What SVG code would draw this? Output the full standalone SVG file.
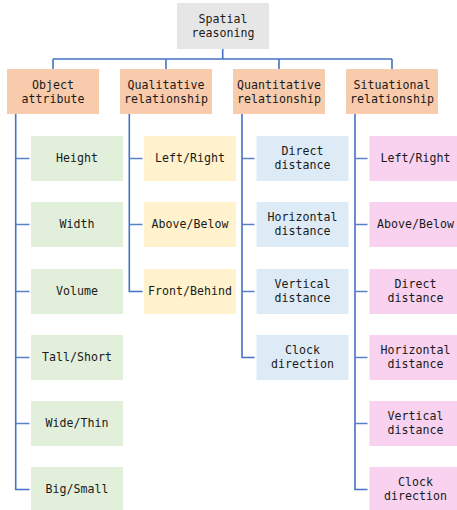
<svg xmlns="http://www.w3.org/2000/svg" width="457" height="510" viewBox="0 0 457 510">
<style>
text{font-family:"DejaVu Sans Mono","Liberation Mono",monospace;font-size:11.6px;fill:#1a1a1a;text-anchor:middle}
.ln{stroke:#4472c4;stroke-width:1.6;fill:none}
.tk{stroke:#5a80c8;stroke-width:1.3;fill:none}
.root{fill:#e7e6e6}
.l1{fill:#f8cbad}
.g{fill:#e2efda}
.y{fill:#fff2cc}
.b{fill:#ddebf7}
.p{fill:#f8d2ef}
</style>
<rect width="457" height="510" fill="#ffffff"/>
<g id="connectors">
<path class="ln" d="M222.7,49V59M53,59H392M53,59V69M166,59V69M279,59V69M392,59V69"/>
<path class="ln" d="M15.7,114V489.5H29.5"/>
<path class="tk" d="M15.7,158.5H29.5M15.7,224.5H29.5M15.7,291.5H29.5M15.7,357.5H29.5M15.7,423.5H29.5"/>
<path class="ln" d="M129.3,114V291.5H142.5"/>
<path class="tk" d="M129.3,158.5H142.5M129.3,224.5H142.5"/>
<path class="ln" d="M242,114V357.5H254.5"/>
<path class="tk" d="M242,158.5H254.5M242,224.5H254.5M242,291.5H254.5"/>
<path class="ln" d="M355,114V489.5H367.5"/>
<path class="tk" d="M355,158.5H367.5M355,224.5H367.5M355,291.5H367.5M355,357.5H367.5M355,423.5H367.5"/>
</g>
<g id="spatial-reasoning"><rect class="root" x="177" y="3" width="92" height="46"/><text x="223" y="22.7">Spatial</text><text x="223" y="36.7">reasoning</text></g>
<g id="object-attribute"><rect class="l1" x="7" y="69" width="92" height="45"/><text x="53" y="89">Object</text><text x="53" y="103">attribute</text></g>
<g id="qualitative-relationship"><rect class="l1" x="120" y="69" width="92" height="45"/><text x="166" y="89">Qualitative</text><text x="166" y="103">relationship</text></g>
<g id="quantitative-relationship"><rect class="l1" x="233" y="69" width="92" height="45"/><text x="279" y="89">Quantitative</text><text x="279" y="103">relationship</text></g>
<g id="situational-relationship"><rect class="l1" x="346" y="69" width="92" height="45"/><text x="392" y="89">Situational</text><text x="392" y="103">relationship</text></g>

<g id="oa-height"><rect class="g" x="31" y="136" width="92" height="45"/><text x="77" y="161.5">Height</text></g>
<g id="oa-width"><rect class="g" x="31" y="202" width="92" height="45"/><text x="77" y="227.5">Width</text></g>
<g id="oa-volume"><rect class="g" x="31" y="269" width="92" height="45"/><text x="77" y="294.5">Volume</text></g>
<g id="oa-tall-short"><rect class="g" x="31" y="335" width="92" height="45"/><text x="77" y="360.5">Tall/Short</text></g>
<g id="oa-wide-thin"><rect class="g" x="31" y="401" width="92" height="45"/><text x="77" y="426.5">Wide/Thin</text></g>
<g id="oa-big-small"><rect class="g" x="31" y="467" width="92" height="43"/><text x="77" y="492.5">Big/Small</text></g>

<g id="ql-left-right"><rect class="y" x="144" y="136" width="92" height="45"/><text x="190" y="161.5">Left/Right</text></g>
<g id="ql-above-below"><rect class="y" x="144" y="202" width="92" height="45"/><text x="190" y="227.5">Above/Below</text></g>
<g id="ql-front-behind"><rect class="y" x="144" y="269" width="92" height="45"/><text x="190" y="294.5">Front/Behind</text></g>

<g id="qn-direct"><rect class="b" x="256.5" y="136" width="92" height="45"/><text x="302.5" y="155">Direct</text><text x="302.5" y="168.5">distance</text></g>
<g id="qn-horizontal"><rect class="b" x="256.5" y="202" width="92" height="45"/><text x="302.5" y="221">Horizontal</text><text x="302.5" y="234.5">distance</text></g>
<g id="qn-vertical"><rect class="b" x="256.5" y="269" width="92" height="45"/><text x="302.5" y="288">Vertical</text><text x="302.5" y="301.5">distance</text></g>
<g id="qn-clock"><rect class="b" x="256.5" y="335" width="92" height="45"/><text x="302.5" y="354">Clock</text><text x="302.5" y="367.5">direction</text></g>

<g id="st-left-right"><rect class="p" x="369.5" y="136" width="92" height="45"/><text x="415.5" y="161.5">Left/Right</text></g>
<g id="st-above-below"><rect class="p" x="369.5" y="202" width="92" height="45"/><text x="415.5" y="227.5">Above/Below</text></g>
<g id="st-direct"><rect class="p" x="369.5" y="269" width="92" height="45"/><text x="415.5" y="288">Direct</text><text x="415.5" y="301.5">distance</text></g>
<g id="st-horizontal"><rect class="p" x="369.5" y="335" width="92" height="45"/><text x="415.5" y="354">Horizontal</text><text x="415.5" y="367.5">distance</text></g>
<g id="st-vertical"><rect class="p" x="369.5" y="401" width="92" height="45"/><text x="415.5" y="420">Vertical</text><text x="415.5" y="433.5">distance</text></g>
<g id="st-clock"><rect class="p" x="369.5" y="467" width="92" height="43"/><text x="415.5" y="486">Clock</text><text x="415.5" y="499.5">direction</text></g>
</svg>
